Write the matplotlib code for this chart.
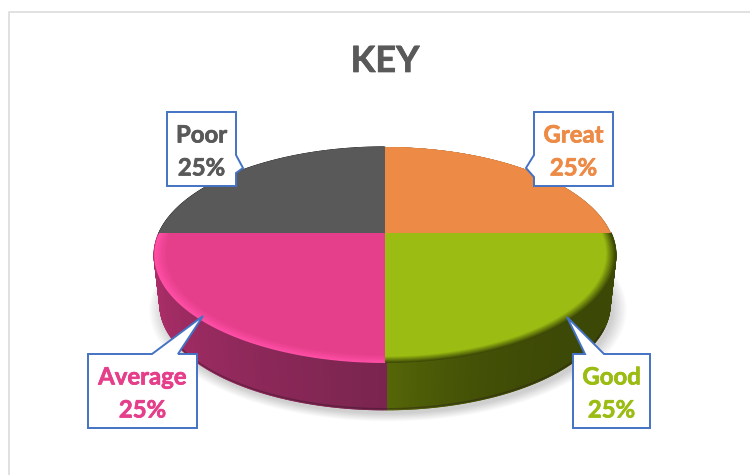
import matplotlib
matplotlib.use('Agg')
import matplotlib.pyplot as plt
import matplotlib.patheffects as pe
import numpy as np
from matplotlib.patches import Polygon

categories = ['Great', 'Good', 'Average', 'Poor']
values = [25, 25, 25, 25]
colors = ['#ED8B46', '#9BBC12', '#E53E8B', '#595959']
side_left = ['#A86A3C', '#3C4806', '#B8306F', '#3A3A3A']
side_right = ['#A86A3C', '#566808', '#7A2550', '#3A3A3A']
rim_colors = ['#C07E4E', '#3C4806', '#FF4FA6', '#595959']
rim_widths = [0.006, 0.04, 0.05, 0.003]
title = 'KEY'

# label box: left, right, top, bottom, then the pointer (start, tip, end)
boxes = {
    'Great': (534, 613, 112, 186, [(534, 177), (526, 168), (534, 155)]),
    'Good': (573, 650, 354, 428, [(604, 354), (567, 317), (585, 354)]),
    'Average': (88, 197, 354, 428, [(178, 354), (203, 316), (152, 354)]),
    'Poor': (167, 236, 112, 186, [(236, 155), (243, 168), (236, 173)]),
}

# pie placement in image pixels
cx, cy = 385, 233
radius_x, radius_y, persp = 226, 103.5, 0.2037
depth = 50
bottom_scale = 0.975


def project(angle, r=1.0, dy=0.0, scale=1.0):
    # circle seen in perspective, so the near half comes out bigger
    a = np.radians(angle)
    u = r * np.cos(a)
    v = r * np.sin(a)
    w = 1 + persp * v
    return cx + scale * radius_x * u / w, cy + dy + scale * radius_y * v * -1 / w


def blend(c1, c2, t):
    c1 = np.array(matplotlib.colors.to_rgb(c1))
    c2 = np.array(matplotlib.colors.to_rgb(c2))
    return tuple(c1 + (c2 - c1) * t)


def bold_text(x, y, s, size, col):
    # a thin stroke brings the weight up to the reference's heavy bold
    ax.text(x, y, s, ha='center', va='center', fontsize=size, fontweight='bold',
            family='Lato', color=col, zorder=21,
            path_effects=[pe.withStroke(linewidth=0.5, foreground=col)])


fig = plt.figure(figsize=(7.5, 4.75), dpi=100)
ax = fig.add_axes([0, 0, 1, 1])
ax.set_xlim(0, 750)
ax.set_ylim(475, 0)
ax.axis('off')

# chart area border
ax.plot([8.5, 8.5, 750], [475, 12, 12], color='#D9D9D9', lw=1.1)

bold_text(385, 61.5, title, 26, '#595959')

# slice angles, clockwise from twelve o'clock
fractions = np.array(values) / sum(values)
ends = 90 - np.cumsum(fractions) * 360
starts = ends + fractions * 360

# soft shadow under the pie
circle = np.linspace(0, 360, 241)
for s in np.linspace(1.035, 0.975, 16):
    xs, ys = project(circle, dy=depth + 4, scale=s)
    ax.add_patch(Polygon(np.column_stack([xs + 3, ys]), closed=True,
                         fc='black', ec='none', alpha=0.011, zorder=1))

# side wall, one thin strip at a time
for i in range(len(values)):
    lo, hi = ends[i], starts[i]
    if lo % 360 >= 180 or hi % 360 > 180 or lo < -90:
        steps = np.arange(lo, hi, 0.5)
        for j, a in enumerate(steps):
            t = j / max(len(steps) - 1, 1)
            if i == 1:
                t = (1 - t) ** 5
            col = blend(side_left[i], side_right[i], t)
            x1, y1 = project(a)
            x2, y2 = project(a + 0.8)
            x3, y3 = project(a + 0.8, dy=depth, scale=bottom_scale)
            x4, y4 = project(a, dy=depth, scale=bottom_scale)
            ax.add_patch(Polygon([(x1, y1), (x2, y2), (x3, y3), (x4, y4)], closed=True,
                                 fc=col, ec=col, lw=0.9, zorder=2))

# dark line along the bottom edge of the wall
arc = np.linspace(215, 335, 160)
xs, ys = project(arc, dy=depth - 1, scale=bottom_scale)
ax.plot(xs, ys, color='#2A1520', lw=1.0, alpha=0.4, zorder=3)

# top face: nested wedges fade the rim colour into the face colour
for i in range(len(values)):
    arc = np.linspace(ends[i], starts[i], 120)
    width = rim_widths[i]
    for k, r in enumerate(np.linspace(1.0, 1.0 - width, 12)):
        t = k / 11
        col = blend(rim_colors[i], colors[i], t)
        xs, ys = project(arc, r=r)
        pts = np.column_stack([np.r_[cx, xs], np.r_[cy, ys]])
        ax.add_patch(Polygon(pts, closed=True, fc=col, ec='none', zorder=4 + k))

# callouts
for name, val, col in zip(categories, values, colors):
    left, right, top, bottom, pointer = boxes[name]
    if name in ('Good', 'Average'):
        outline = [(left, top)] + pointer[::-1] + [(right, top), (right, bottom), (left, bottom)]
    elif name == 'Great':
        outline = [(left, top), (right, top), (right, bottom), (left, bottom)] + pointer
    else:
        outline = [(left, top), (right, top)] + pointer + [(right, bottom), (left, bottom)]
    ax.add_patch(Polygon(outline, closed=True, fc='white', ec='#4472C4', lw=1.4,
                         joinstyle='miter', zorder=20))
    mid = (left + right) / 2
    bold_text(mid, top + 23, name, 17.2, col)
    bold_text(mid, top + 56, f'{val}%', 17.2, col)

fig.savefig('out.png', dpi=100)
